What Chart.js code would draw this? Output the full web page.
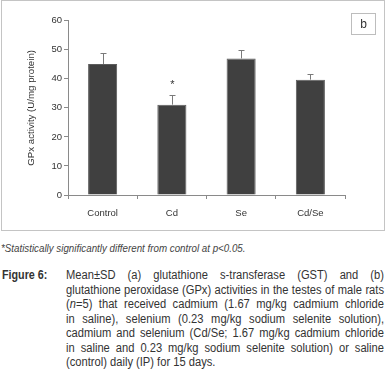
<!DOCTYPE html>
<html>
<head>
<meta charset="utf-8">
<script src="https://cdn.jsdelivr.net/npm/chart.js@4"></script>
<style>
    body { margin: 0; background: #fff; width: 386px; height: 387px; position: relative; overflow: hidden;
           font-family: "Liberation Sans", Arial, sans-serif; color: #333; }
    #cuadro { position: absolute; left: 1px; top: 0; width: 384px; height: 231px; box-sizing: border-box;
              border: 1px solid #c4c4c4; }
    #grafico { position: absolute; left: 0; top: 0; }
    #letra { position: absolute; left: 351px; top: 13px; width: 25px; height: 22px; box-sizing: border-box;
             border: 1px solid #bdbdbd; font-size: 12px; line-height: 20px; text-align: center; color: #333; }
    #nota { position: absolute; left: 1px; top: 242px; font-size: 10.5px; font-style: italic; color: #444;
            white-space: nowrap; transform: scaleX(0.93); transform-origin: left top; }
    #figura { position: absolute; left: 2px; top: 268px; font-size: 12.5px; font-weight: bold; color: #333;
              line-height: 14.5px; transform: scaleX(0.86); transform-origin: left top; }
    #leyenda { position: absolute; left: 66px; top: 268px; font-size: 12px; line-height: 14.5px; color: #333;
               transform-origin: left top; }
    #leyenda div { text-align: justify; text-align-last: justify; white-space: nowrap; }
    #leyenda div.ultima { text-align-last: left; }
</style>
</head>
<body>
<div id="cuadro">
    <canvas id="grafico" width="382" height="229"></canvas>
</div>
<div id="letra">b</div>
<div id="nota">*Statistically significantly different from control at <i>p</i>&lt;0.05.</div>
<div id="figura">Figure 6:</div>
<div id="leyenda">
    <div>Mean±SD (a) glutathione s-transferase (GST) and (b)</div>
    <div id="lineaLarga">glutathione peroxidase (GPx) activities in the testes of male rats</div>
    <div>(<i>n</i>=5) that received cadmium (1.67 mg/kg cadmium chloride</div>
    <div>in saline), selenium (0.23 mg/kg sodium selenite solution),</div>
    <div>cadmium and selenium (Cd/Se; 1.67 mg/kg cadmium chloride</div>
    <div>in saline and 0.23 mg/kg sodium selenite solution) or saline</div>
    <div class="ultima">(control) daily (IP) for 15 days.</div>
</div>
<script>
const grupos = ['Control', 'Cd', 'Se', 'Cd/Se'];
const mediaGPx = [45.1, 31.1, 47.0, 39.7];
const desvioGPx = [3.9, 3.2, 2.9, 2.0];
const marcas = ['', '*', '', ''];
const ejeYMin = 0;
const ejeYMax = 60;
const ejeYPaso = 10;

const fuente = '"Liberation Sans", Arial, sans-serif';

// ajusta la leyenda (texto estrecho) al ancho del bloque
(function () {
    const leyenda = document.getElementById('leyenda');
    const ancho = 318;
    const medida = document.createElement('span');
    medida.style.whiteSpace = 'nowrap';
    medida.innerHTML = document.getElementById('lineaLarga').innerHTML;
    leyenda.appendChild(medida);
    const natural = medida.getBoundingClientRect().width;
    leyenda.removeChild(medida);
    const escala = Math.min(1, (ancho - 3) / natural);
    leyenda.style.width = (ancho / escala) + 'px';
    leyenda.style.transform = 'scaleX(' + escala + ')';
})();

// barras de error (solo hacia arriba) y asteriscos
const pluginErrores = {
    id: 'errores',
    afterDatasetsDraw(chart) {
        const ctx = chart.ctx;
        const meta = chart.getDatasetMeta(0);
        const y = chart.scales.y;
        ctx.save();
        ctx.strokeStyle = '#7a7a7a';
        ctx.lineWidth = 1;
        meta.data.forEach((barra, i) => {
            const x = Math.round(barra.x) + 0.5;
            const arriba = Math.round(y.getPixelForValue(mediaGPx[i] + desvioGPx[i])) + 0.5;
            ctx.beginPath();
            ctx.moveTo(x, barra.y);
            ctx.lineTo(x, arriba);
            ctx.moveTo(x - 3, arriba);
            ctx.lineTo(x + 3, arriba);
            ctx.stroke();
            if (marcas[i]) {
                ctx.fillStyle = '#333';
                ctx.font = '11px ' + fuente;
                ctx.textAlign = 'center';
                ctx.textBaseline = 'middle';
                ctx.fillText(marcas[i], x, arriba - 11);
            }
        });
        ctx.restore();
    }
};

const ctx = document.getElementById('grafico').getContext('2d');
new Chart(ctx, {
    type: 'bar',
    data: {
        labels: grupos,
        datasets: [{
            data: mediaGPx,
            backgroundColor: '#404040',
            borderColor: '#5c5c5c',
            borderWidth: 1,
            barPercentage: 0.42,
            categoryPercentage: 1
        }]
    },
    options: {
        responsive: false,
        animation: false,
        devicePixelRatio: 1,
        layout: { padding: { top: 19.7, right: 39, left: 0, bottom: 0 } },
        plugins: { legend: { display: false }, tooltip: { enabled: false } },
        scales: {
            x: {
                offset: true,
                grid: { offset: true, drawOnChartArea: false, tickLength: 4, color: '#8a8a8a' },
                border: { color: '#8a8a8a' },
                ticks: { color: '#333', font: { family: fuente, size: 9.5 }, padding: 9, maxRotation: 0 },
                afterFit(escala) { escala.height = 35; }
            },
            y: {
                min: ejeYMin,
                max: ejeYMax,
                grid: { drawOnChartArea: false, tickLength: 4, color: '#8a8a8a' },
                border: { color: '#8a8a8a' },
                ticks: { stepSize: ejeYPaso, color: '#333', font: { family: fuente, size: 9.5 }, padding: 2 },
                title: {
                    display: true,
                    text: 'GPx activity (U/mg protein)',
                    color: '#333',
                    font: { family: fuente, size: 9.7 },
                    padding: { top: 24, bottom: 0 }
                },
                afterFit(escala) { escala.width = 66; }
            }
        }
    },
    plugins: [pluginErrores]
});
</script>
</body>
</html>
